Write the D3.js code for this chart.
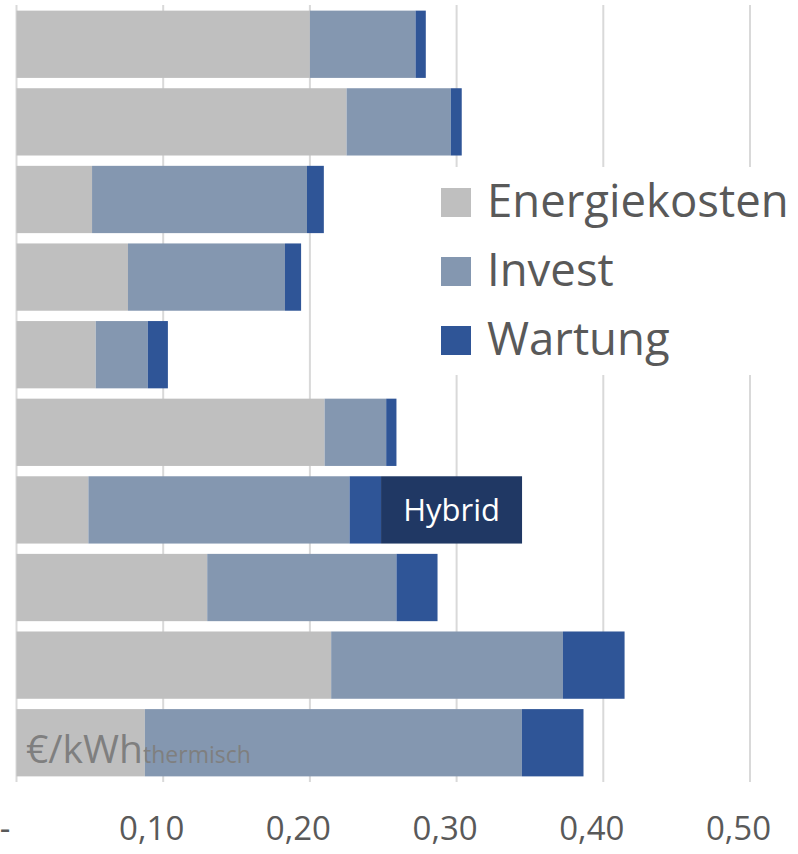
<!DOCTYPE html>
<html>
<head>
<meta charset="utf-8">
<script src="https://cdn.jsdelivr.net/npm/d3@7"></script>
<style>
  body { margin: 0; background: #fff; }
  svg { display: block; font-family: "Open Sans", sans-serif; }
</style>
</head>
<body>
<figure style="margin:0"></figure>
<script>
// chart values (€/kWh thermisch), top bar first
const categories = ['1', '2', '3', '4', '5', '6', '7', '8', '9', '10'];
const energiekosten = [0.200, 0.225, 0.0515, 0.076, 0.054, 0.210, 0.049, 0.130, 0.2145, 0.0875];
const invest = [0.072, 0.071, 0.1465, 0.107, 0.0355, 0.042, 0.178, 0.129, 0.158, 0.257];
const wartung = [0.007, 0.0075, 0.0115, 0.011, 0.0137, 0.007, 0.0215, 0.028, 0.042, 0.042];
const seriesNames = ['Energiekosten', 'Invest', 'Wartung'];
const barLabels = ['', '', '', '', '', '', 'Hybrid', '', '', ''];
const xTicks = [0, 0.1, 0.2, 0.3, 0.4, 0.5];

(() => {
  const totalWidth = 798;
  const totalHeight = 854;
  const colors = ['#BFBFBF', '#8497B0', '#2F5597'];
  const textGray = '#595959';

  const rows = categories.map((c, i) => ({
    cat: c,
    Energiekosten: energiekosten[i],
    Invest: invest[i],
    Wartung: wartung[i],
    label: barLabels[i]
  }));

  const svg = d3.select('figure').append('svg')
    .attr('width', totalWidth)
    .attr('height', totalHeight);

  const x = d3.scaleLinear()
    .domain([0, 0.5])
    .range([16.5, 750]);

  const y = d3.scaleBand()
    .domain(categories)
    .range([5.5, 781.5])
    .paddingInner(0.133)
    .paddingOuter(0.066);

  // vertical gridlines (including the zero line)
  svg.append('g')
    .selectAll('line')
    .data(xTicks)
    .join('line')
      .attr('x1', d => x(d))
      .attr('x2', d => x(d))
      .attr('y1', 5)
      .attr('y2', 782)
      .attr('stroke', '#D9D9D9')
      .attr('stroke-width', 2);

  const stack = d3.stack().keys(seriesNames);
  const stacked = stack(rows);

  svg.append('g')
    .selectAll('g')
    .data(stacked)
    .join('g')
      .attr('fill', (d, i) => colors[i])
    .selectAll('rect')
    .data(d => d)
    .join('rect')
      .attr('x', d => x(d[0]))
      .attr('y', d => y(d.data.cat))
      .attr('width', d => x(d[1]) - x(d[0]))
      .attr('height', y.bandwidth());

  // x axis labels (accounting style, zero shown as dash)
  const fmt = (d) => d === 0 ? '-' : d3.format('.2f')(d).replace('.', ',');
  const xAxis = d3.axisBottom(x)
    .tickValues(xTicks)
    .tickFormat(fmt)
    .tickSize(0);

  const xGroup = svg.append('g')
    .attr('transform', 'translate(0, 782)')
    .call(xAxis);
  xGroup.select('.domain').remove();
  xGroup.selectAll('text')
    .attr('y', 0)
    .attr('dy', 0)
    .attr('transform', 'translate(-12, 58)')
    .attr('fill', textGray)
    .style('font-family', '"Open Sans", sans-serif')
    .style('font-size', '33px');

  // legend, white box over the gridlines
  const legend = svg.append('g');
  legend.append('rect')
    .attr('x', 425)
    .attr('y', 167)
    .attr('width', 373)
    .attr('height', 208)
    .attr('fill', '#fff');

  const item = legend.selectAll('g')
    .data(seriesNames)
    .join('g')
      .attr('transform', (d, i) => `translate(441, ${188 + i * 69})`);
  item.append('rect')
    .attr('width', 30)
    .attr('height', 29)
    .attr('fill', (d, i) => colors[i]);
  item.append('text')
    .attr('x', 46)
    .attr('y', 29)
    .attr('fill', textGray)
    .style('font-size', '45.5px')
    .text(d => d);

  // bar label box ("Hybrid")
  const labelled = rows.filter(r => r.label);
  const lab = svg.append('g')
    .selectAll('g')
    .data(labelled)
    .join('g')
      .attr('transform', d => `translate(${x(d.Energiekosten + d.Invest + d.Wartung)}, ${y(d.cat)})`);
  lab.append('rect')
    .attr('width', 141)
    .attr('height', y.bandwidth())
    .attr('fill', '#203864');
  lab.append('text')
    .attr('x', 70.5)
    .attr('y', y.bandwidth() / 2 + 11)
    .attr('text-anchor', 'middle')
    .attr('fill', '#fff')
    .style('font-size', '31px')
    .text(d => d.label);

  // unit label
  const unit = svg.append('text')
    .attr('x', 26)
    .attr('y', 763)
    .attr('fill', '#7F7F7F');
  unit.append('tspan')
    .style('font-size', '39px')
    .text('€/kWh');
  unit.append('tspan')
    .style('font-size', '23px')
    .text('thermisch');
})();
</script>
</body>
</html>
